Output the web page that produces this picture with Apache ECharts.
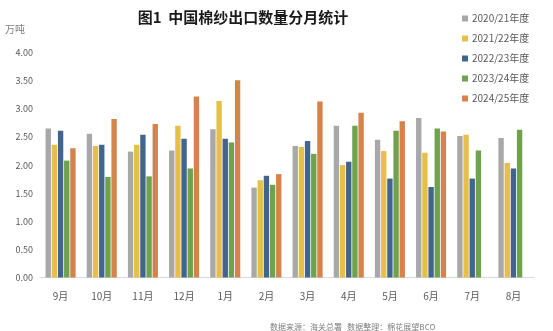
<!DOCTYPE html>
<html>
<head>
<meta charset="utf-8">
<script src="https://cdn.jsdelivr.net/npm/echarts@6/dist/echarts.min.js"></script>
<style>
html,body{margin:0;padding:0;background:#fff;}
#c{width:553px;height:331px;}
</style>
</head>
<body>
<div id="c"></div>
<script>
const categories = ['9月','10月','11月','12月','1月','2月','3月','4月','5月','6月','7月','8月'];
const seriesNames = ['2020/21年度','2021/22年度','2022/23年度','2023/24年度','2024/25年度'];
const s2020 = [2.65, 2.56, 2.24, 2.26, 2.64, 1.60, 2.34, 2.70, 2.45, 2.84, 2.52, 2.48];
const s2021 = [2.36, 2.34, 2.36, 2.70, 3.14, 1.73, 2.32, 2.00, 2.25, 2.22, 2.54, 2.04];
const s2022 = [2.61, 2.36, 2.54, 2.47, 2.47, 1.81, 2.43, 2.06, 1.76, 1.61, 1.76, 1.94];
const s2023 = [2.08, 1.79, 1.80, 1.94, 2.40, 1.65, 2.20, 2.70, 2.61, 2.65, 2.26, 2.63];
const s2024 = [2.30, 2.82, 2.73, 3.22, 3.51, 1.84, 3.13, 2.93, 2.78, 2.60, null, null];
const colors = ['#A8A8A8','#E5BF47','#42658E','#6FA24E','#D5824B'];
const allData = [s2020, s2021, s2022, s2023, s2024];
const FONT = '"Noto Sans CJK SC", "Noto Sans", sans-serif';

const chart = echarts.init(document.getElementById('c'));
chart.setOption({
  animation: false,
  color: colors,
  title: [{
    text: '图1  中国棉纱出口数量分月统计',
    left: 238, top: 5, textAlign: 'center',
    textStyle: {fontFamily: FONT, fontSize: 15, fontWeight: 'bold', color: '#1a1a1a'}
  }, {
    text: '数据来源：海关总署   数据整理：棉花展望BCO',
    left: 265, top: 318,
    textStyle: {fontFamily: FONT, fontSize: 8, fontWeight: 'normal', color: '#7f7f7f'}
  }],
  legend: {
    orient: 'vertical', left: 457, top: 7,
    itemWidth: 6, itemHeight: 6, itemGap: 7, icon: 'rect',
    textStyle: {fontFamily: FONT, fontSize: 10, color: '#595959', lineHeight: 13, padding: [0,0,0,-1]},
    data: seriesNames
  },
  grid: {left: 40, right: 19, top: 52.7, bottom: 53.5},
  xAxis: {
    type: 'category', data: categories,
    axisLine: {show: true, lineStyle: {color: '#d9d9d9'}},
    axisTick: {show: false},
    axisLabel: {fontFamily: FONT, fontSize: 10, color: '#595959', margin: 14}
  },
  yAxis: {
    type: 'value', min: 0, max: 4, interval: 0.5,
    name: '万吨', nameLocation: 'end', nameGap: 18,
    nameTextStyle: {fontFamily: FONT, fontSize: 10, color: '#7f7f7f', align: 'left', padding: [0,0,0,-35]},
    splitLine: {show: false},
    axisLine: {show: false}, axisTick: {show: false},
    axisLabel: {fontFamily: FONT, fontSize: 9, color: '#595959', margin: 7,
      formatter: v => v.toFixed(2)}
  },
  series: seriesNames.map((n, i) => ({
    name: n, type: 'bar', data: allData[i],
    barGap: '15%', barCategoryGap: '27%',
    itemStyle: {color: colors[i]}
  }))
});
</script>
</body>
</html>
